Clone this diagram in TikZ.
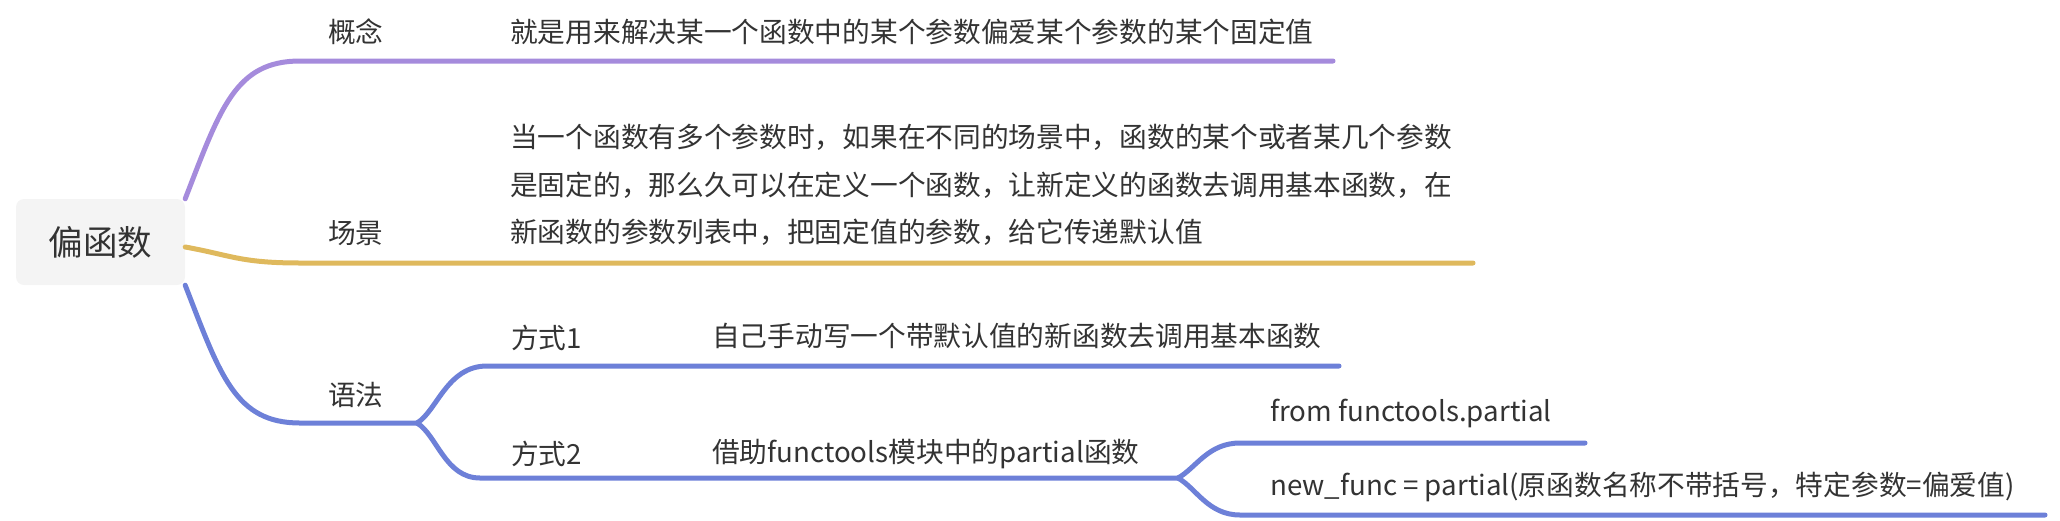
\documentclass[tikz,border=0pt]{standalone}
\usepackage{fontspec}
\setmainfont{Noto Sans CJK SC}
\definecolor{txt}{HTML}{333333}
\definecolor{rootbg}{HTML}{F4F4F4}
\definecolor{purp}{HTML}{A58BDC}
\definecolor{yell}{HTML}{DFB95D}
\definecolor{blu}{HTML}{6D80D8}
\begin{document}
\begin{tikzpicture}[x=1pt,y=-1pt,
  lbl/.style={anchor=west,inner sep=0pt,text=txt,font=\fontsize{27.7}{33}\selectfont},
  br/.style={line width=5pt,line cap=round}]
\useasboundingbox (0,0) rectangle (2060,520);
\node[fill=rootbg,rounded corners=8pt,minimum width=169pt,minimum height=86pt,inner sep=0pt,text=txt,font=\fontsize{34.5}{40}\selectfont] (root) at (100.5,242) {偏函数};
% coordinates
\coordinate (k1) at (300,61);   \coordinate (k1e) at (1333,61);
\coordinate (k2) at (300,263);  \coordinate (k2e) at (1473,263);
\coordinate (k3) at (300,423);  \coordinate (j1) at (417,423);
\coordinate (m1) at (487,366);  \coordinate (m1e) at (1339,366);
\coordinate (m2) at (480,478);  \coordinate (j2) at (1178,478);
\coordinate (n1) at (1240,443); \coordinate (n1e) at (1585,443);
\coordinate (n2) at (1240,515); \coordinate (n2e) at (2045,515);
% branches
\draw[br,purp] (root.north east) .. controls +(35,-90) and +(-65,0) .. (k1) -- (k1e);
\draw[br,yell] ([yshift=-5pt]root.east) .. controls +(45,8) and +(-60,0) .. (k2) -- (k2e);
\draw[br,blu] (root.south east) .. controls +(35,90) and +(-65,0) .. (k3) -- (j1);
\draw[br,blu] (j1) .. controls +(20,-12) and +(-40,0) .. (m1) -- (m1e);
\draw[br,blu] (j1) .. controls +(20,12) and +(-35,0) .. (m2) -- (j2);
\draw[br,blu] (j2) .. controls +(18,-10) and +(-32,0) .. (n1) -- (n1e);
\draw[br,blu] (j2) .. controls +(18,10) and +(-32,0) .. (n2) -- (n2e);
% labels
\node[lbl] (gn) at (328,32) {概念};
\node[lbl] (gnt) at (510,32) {就是用来解决某一个函数中的某个参数偏爱某个参数的某个固定值};
\node[lbl] (cj) at (328,233) {场景};
\node[lbl,align=left,font=\fontsize{27.7}{47.5}\selectfont] (cjt) at (510,185) {当一个函数有多个参数时，如果在不同的场景中，函数的某个或者某几个参数\\是固定的，那么久可以在定义一个函数，让新定义的函数去调用基本函数，在\\新函数的参数列表中，把固定值的参数，给它传递默认值};
\node[lbl] (yf) at (328,395) {语法};
\node[lbl] (fs1) at (511,338) {方式1};
\node[lbl] (fs1t) at (712,336) {自己手动写一个带默认值的新函数去调用基本函数};
\node[lbl] (fs2) at (511,454) {方式2};
\node[lbl] (fs2t) at (712,454) {借助functools模块中的partial函数};
\node[lbl] (p1) at (1270,413) {from functools.partial};
\node[lbl] (p2) at (1270,487) {new\_func = partial(原函数名称不带括号，特定参数=偏爱值)};
\end{tikzpicture}
\end{document}
